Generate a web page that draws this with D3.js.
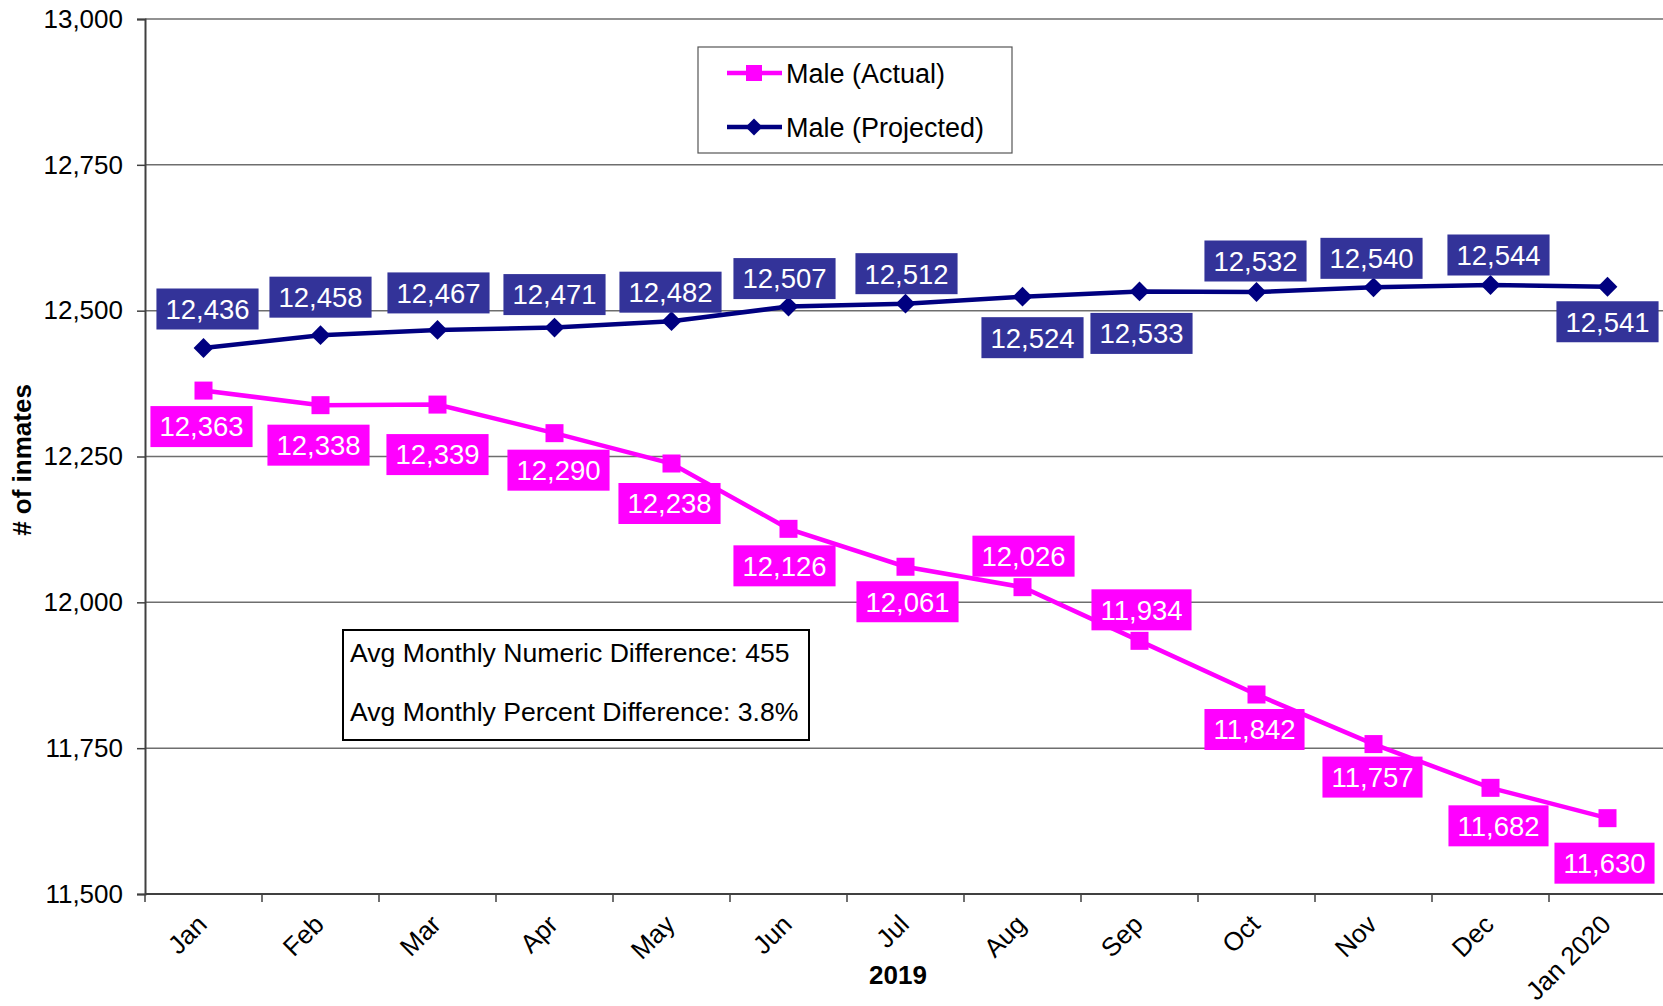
<!DOCTYPE html>
<html>
<head>
<meta charset="utf-8">
<script src="https://cdn.jsdelivr.net/npm/d3@7"></script>
<style>
  html, body { margin: 0; padding: 0; background: #fff; }
  svg { display: block; font-family: "Liberation Sans", Arial, sans-serif; }
</style>
</head>
<body>
<svg id="chart" width="1663" height="1006"></svg>
<script>
// ---- data ----
const months = ["Jan","Feb","Mar","Apr","May","Jun","Jul","Aug","Sep","Oct","Nov","Dec","Jan 2020"];
const maleActual = [12363,12338,12339,12290,12238,12126,12061,12026,11934,11842,11757,11682,11630];
const maleProjected = [12436,12458,12467,12471,12482,12507,12512,12524,12533,12532,12540,12544,12541];
const yTicks = [11500,11750,12000,12250,12500,12750,13000];
const legendLabels = ["Male (Actual)","Male (Projected)"];
const noteLines = ["Avg Monthly Numeric Difference: 455","Avg Monthly Percent Difference: 3.8%"];
const xTitle = "2019";
const yTitle = "# of inmates";

// ---- layout (label offsets relative to the point) ----
const actualLabelDx = [-2,-2,0,4,-2,-4,2,1,2,-2,-1,8,-3];
const actualLabelDy = [36,40,50,37,40,37,35,-31,-31,35,33,38,45];
const projLabelDx = [4,0,1,0,-1,-4,1,10,2,-1,-2,8,0];
const projLabelDy = [-39,-38,-37,-33,-29,-28,-30,41,42,-31,-29,-30,35];

const colActual = "#FF00FF";
const colProj = "#000080";
const colProjLabel = "#333399";

const svg = d3.select("#chart");
const plotLeft = 145, plotTop = 19, plotBottom = 894, step = 117;
const plotRight = plotLeft + step * months.length;

const x = d3.scaleBand().domain(months).range([plotLeft, plotRight]).padding(0);
const y = d3.scaleLinear().domain([11500, 13000]).range([plotBottom, plotTop]);
const cx = d => x(d) + x.bandwidth() / 2;

// gridlines
svg.append("g").selectAll("line").data(yTicks.filter(t => t > 11500)).join("line")
  .attr("x1", plotLeft).attr("x2", 1663)
  .attr("y1", d => y(d)).attr("y2", d => y(d))
  .attr("stroke", "#6e6e6e").attr("stroke-width", 1.5);

// y axis
const yAxis = d3.axisLeft(y).tickValues(yTicks).tickSize(8).tickPadding(14)
  .tickFormat(d3.format(","));
const gy = svg.append("g").attr("transform", `translate(${plotLeft},0)`).call(yAxis);
gy.select(".domain").attr("stroke", "#404040").attr("stroke-width", 2);
gy.selectAll(".tick line").attr("stroke", "#404040").attr("stroke-width", 1.5);
gy.selectAll(".tick text").attr("font-size", 26).attr("fill", "#000")
  .attr("font-family", "Liberation Sans, Arial, sans-serif");

// x axis
const xTickPos = months.map(m => x(m)).concat([plotRight]);
const gx = svg.append("g");
gx.append("line").attr("x1", plotLeft).attr("x2", 1663).attr("y1", plotBottom).attr("y2", plotBottom)
  .attr("stroke", "#404040").attr("stroke-width", 2);
gx.selectAll("line.tk").data(xTickPos).join("line").attr("class", "tk")
  .attr("x1", d => d).attr("x2", d => d).attr("y1", plotBottom).attr("y2", plotBottom + 8)
  .attr("stroke", "#404040").attr("stroke-width", 1.5);
gx.selectAll("text").data(months).join("text")
  .attr("transform", d => `translate(${cx(d) + 5},${plotBottom + 32}) rotate(-45)`)
  .attr("text-anchor", "end").attr("font-size", 26).attr("fill", "#000")
  .text(d => d);

// titles
svg.append("text").attr("x", 898).attr("y", 984).attr("text-anchor", "middle")
  .attr("font-size", 26).attr("font-weight", "bold").text(xTitle);
svg.append("text").attr("transform", "translate(31,460) rotate(-90)")
  .attr("text-anchor", "middle").attr("font-size", 26).attr("font-weight", "bold").text(yTitle);

// lines
const line = d3.line().x((d, i) => cx(months[i])).y(d => y(d));
svg.append("path").datum(maleProjected).attr("d", line)
  .attr("fill", "none").attr("stroke", colProj).attr("stroke-width", 4.5);
svg.append("path").datum(maleActual).attr("d", line)
  .attr("fill", "none").attr("stroke", colActual).attr("stroke-width", 4.5);

// markers
svg.append("g").selectAll("path").data(maleProjected).join("path")
  .attr("transform", (d, i) => `translate(${cx(months[i])},${y(d)}) rotate(45)`)
  .attr("d", "M-7,-7H7V7H-7Z").attr("fill", colProj);
svg.append("g").selectAll("rect").data(maleActual).join("rect")
  .attr("x", (d, i) => cx(months[i]) - 9).attr("y", d => y(d) - 9)
  .attr("width", 18).attr("height", 18).attr("fill", colActual);

// data labels
const fmt = d3.format(",");
function labels(data, dxs, dys, fill) {
  const g = svg.append("g");
  data.forEach((v, i) => {
    const lx = cx(months[i]) + dxs[i];
    const ly = y(v) + dys[i];
    const t = g.append("text").attr("x", lx).attr("y", ly).attr("dy", "0.36em")
      .attr("text-anchor", "middle").attr("font-size", 27.5).attr("fill", "#fff").text(fmt(v));
    const bb = t.node().getBBox();
    g.insert("rect", "text").attr("x", lx - bb.width / 2 - 9).attr("y", ly - 20.5)
      .attr("width", bb.width + 18).attr("height", 41).attr("fill", fill);
  });
}
labels(maleProjected, projLabelDx, projLabelDy, colProjLabel);
labels(maleActual, actualLabelDx, actualLabelDy, colActual);

// legend
const lg = svg.append("g");
lg.append("rect").attr("x", 698).attr("y", 47).attr("width", 314).attr("height", 106)
  .attr("fill", "#fff").attr("stroke", "#555").attr("stroke-width", 1.2);
const legCols = [colActual, colProj];
legendLabels.forEach((lab, i) => {
  const ly = 73 + i * 54;
  lg.append("line").attr("x1", 727).attr("x2", 782).attr("y1", ly).attr("y2", ly)
    .attr("stroke", legCols[i]).attr("stroke-width", 4.5);
  if (i === 0) {
    lg.append("rect").attr("x", 746).attr("y", ly - 8).attr("width", 16).attr("height", 16).attr("fill", colActual);
  } else {
    lg.append("path").attr("transform", `translate(754,${ly}) rotate(45)`).attr("d", "M-6,-6H6V6H-6Z").attr("fill", colProj);
  }
  lg.append("text").attr("x", 786).attr("y", ly).attr("dy", "0.36em")
    .attr("font-size", 27).attr("fill", "#000").text(lab);
});

// note box
const ng = svg.append("g");
ng.append("rect").attr("x", 343).attr("y", 630).attr("width", 466).attr("height", 110)
  .attr("fill", "#fff").attr("stroke", "#000").attr("stroke-width", 2);
noteLines.forEach((t, i) => {
  ng.append("text").attr("x", 350).attr("y", 652 + i * 59).attr("dy", "0.36em")
    .attr("font-size", 26.6).attr("fill", "#000").text(t);
});
</script>
</body>
</html>
